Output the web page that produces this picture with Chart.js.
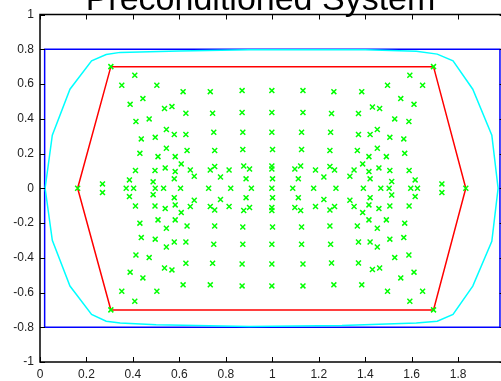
<!DOCTYPE html>
<html>
<head>
<meta charset="utf-8">
<script src="https://cdn.jsdelivr.net/npm/chart.js@4"></script>
<style>
html, body { margin: 0; padding: 0; overflow: hidden; background: #fff; }
#wrap { width: 520px; height: 381px; }
</style>
</head>
<body>
<div id="wrap"><canvas id="chart" width="520" height="381"></canvas></div>
<script>
const titleText = "Preconditioned System";
const xTicks = [0, 0.2, 0.4, 0.6, 0.8, 1, 1.2, 1.4, 1.6, 1.8, 2];
const yTicks = [-1, -0.8, -0.6, -0.4, -0.2, 0, 0.2, 0.4, 0.6, 0.8, 1];

// eigenvalues (green x)
const eigX = [
    0.305, 1.694, 0.408, 1.592, 0.352, 0.503, 1.496, 1.647, 0.616, 0.733,
    0.870, 0.998, 1.132, 1.265, 1.385, 0.443, 1.553, 0.388, 1.610, 0.536,
    0.568, 1.431, 1.462, 0.628, 0.743, 0.870, 0.998, 1.132, 1.255, 1.371,
    0.413, 0.470, 1.527, 1.588, 0.544, 1.452, 0.578, 0.628, 1.371, 1.421,
    0.748, 0.873, 0.998, 1.126, 1.251, 0.436, 0.496, 1.506, 1.566, 0.544,
    1.452, 0.633, 0.752, 0.873, 1.001, 1.126, 1.248, 1.366, 0.430, 1.570,
    0.508, 0.582, 1.416, 1.491, 0.608, 1.389, 0.877, 0.998, 1.122, 0.752,
    1.248, 0.539, 1.459, 0.902, 0.998, 1.097, 0.411, 0.495, 0.647, 0.733,
    0.814, 1.186, 1.268, 1.352, 1.506, 1.589, 0.582, 1.416, 0.664, 0.777,
    1.222, 1.334, 0.385, 0.578, 0.887, 1.001, 1.112, 1.421, 1.615, 0.487,
    1.514, 0.269, 1.730,
    0.305, 1.694, 0.408, 1.592, 0.352, 0.503, 1.496, 1.647, 0.616, 0.733,
    0.870, 0.998, 1.132, 1.265, 1.385, 0.443, 1.553, 0.388, 1.610, 0.536,
    0.568, 1.431, 1.462, 0.628, 0.743, 0.870, 0.998, 1.132, 1.255, 1.371,
    0.413, 0.470, 1.527, 1.588, 0.544, 1.452, 0.578, 0.628, 1.371, 1.421,
    0.748, 0.873, 0.998, 1.126, 1.251, 0.436, 0.496, 1.506, 1.566, 0.544,
    1.452, 0.633, 0.752, 0.873, 1.001, 1.126, 1.248, 1.366, 0.430, 1.570,
    0.508, 0.582, 1.416, 1.491, 0.608, 1.389, 0.877, 0.998, 1.122, 0.752,
    1.248, 0.539, 1.459, 0.902, 0.998, 1.097, 0.411, 0.495, 0.647, 0.733,
    0.814, 1.186, 1.268, 1.352, 1.506, 1.589, 0.582, 1.416, 0.664, 0.777,
    1.222, 1.334, 0.385, 0.578, 0.887, 1.001, 1.112, 1.421, 1.615, 0.487,
    1.514, 0.269, 1.730,
    0.162, 0.371, 0.403, 0.496, 0.532, 0.605, 0.726, 0.821, 0.910, 0.998,
    1.088, 1.178, 1.274, 1.392, 1.467, 1.503, 1.596, 1.625, 1.833
];
const eigY = [
    0.700, 0.700, 0.650, 0.650, 0.593, 0.593, 0.593, 0.593, 0.556, 0.556,
    0.562, 0.562, 0.562, 0.556, 0.556, 0.516, 0.516, 0.483, 0.483, 0.459,
    0.470, 0.468, 0.459, 0.432, 0.432, 0.436, 0.436, 0.436, 0.430, 0.430,
    0.384, 0.399, 0.399, 0.384, 0.338, 0.338, 0.309, 0.309, 0.309, 0.309,
    0.322, 0.322, 0.322, 0.322, 0.322, 0.284, 0.293, 0.293, 0.284, 0.230,
    0.230, 0.217, 0.217, 0.223, 0.223, 0.223, 0.217, 0.217, 0.201, 0.201,
    0.182, 0.182, 0.182, 0.182, 0.140, 0.140, 0.128, 0.128, 0.128, 0.125,
    0.125, 0.117, 0.117, 0.111, 0.111, 0.111, 0.102, 0.102, 0.105, 0.105,
    0.105, 0.105, 0.105, 0.105, 0.102, 0.102, 0.096, 0.096, 0.069, 0.065,
    0.065, 0.069, 0.048, 0.054, 0.054, 0.054, 0.054, 0.054, 0.048, 0.037,
    0.039, 0.025, 0.025,
    -0.700, -0.700, -0.650, -0.650, -0.593, -0.593, -0.593, -0.593, -0.556, -0.556,
    -0.562, -0.562, -0.562, -0.556, -0.556, -0.516, -0.516, -0.483, -0.483, -0.459,
    -0.470, -0.468, -0.459, -0.432, -0.432, -0.436, -0.436, -0.436, -0.430, -0.430,
    -0.384, -0.399, -0.399, -0.384, -0.338, -0.338, -0.309, -0.309, -0.309, -0.309,
    -0.322, -0.322, -0.322, -0.322, -0.322, -0.284, -0.293, -0.293, -0.284, -0.230,
    -0.230, -0.217, -0.217, -0.223, -0.223, -0.223, -0.217, -0.217, -0.201, -0.201,
    -0.182, -0.182, -0.182, -0.182, -0.140, -0.140, -0.128, -0.128, -0.128, -0.125,
    -0.125, -0.117, -0.117, -0.111, -0.111, -0.111, -0.102, -0.102, -0.105, -0.105,
    -0.105, -0.105, -0.105, -0.105, -0.102, -0.102, -0.096, -0.096, -0.069, -0.065,
    -0.065, -0.069, -0.048, -0.054, -0.054, -0.054, -0.054, -0.054, -0.048, -0.037,
    -0.039, -0.025, -0.025,
    0, 0, 0, 0, 0, 0, 0, 0, 0, 0,
    0, 0, 0, 0, 0, 0, 0, 0, 0
];

// red polygon
const hexX = [0.162, 0.305, 1.694, 1.833, 1.694, 0.305, 0.162];
const hexY = [0, 0.700, 0.700, 0, -0.700, -0.700, 0];

// blue rectangle
const boxX = [0.02, 1.98, 1.98, 0.02, 0.02];
const boxY = [-0.8, -0.8, 0.8, 0.8, -0.8];

// cyan curve
const curveX = [0.022, 0.053, 0.129, 0.222, 0.285, 0.345, 0.6, 0.9, 1.4, 1.62, 1.71, 1.778, 1.863, 1.945, 1.972,
                1.945, 1.863, 1.778, 1.71, 1.62, 1.3, 0.9, 0.5, 0.345, 0.285, 0.222, 0.129, 0.053, 0.022];
const curveY = [0, 0.305, 0.57, 0.733, 0.77, 0.782, 0.79, 0.797, 0.797, 0.788, 0.772, 0.733, 0.57, 0.305, 0,
                -0.305, -0.563, -0.726, -0.765, -0.775, -0.79, -0.795, -0.785, -0.775, -0.765, -0.726, -0.563, -0.3, 0];

const toPts = (xs, ys) => xs.map((x, i) => ({ x: x, y: ys[i] }));

const frame = {
    id: "frame",
    afterDraw(chart) {
        const c = chart.ctx;
        const a = chart.chartArea;
        const sx = chart.scales.x;
        const sy = chart.scales.y;
        c.save();
        c.strokeStyle = "#000";
        c.lineWidth = 1.5;
        c.strokeRect(a.left, a.top, a.right - a.left, a.bottom - a.top);
        c.lineWidth = 1;
        c.beginPath();
        xTicks.forEach(v => {
            const px = Math.round(sx.getPixelForValue(v)) + 0.5;
            c.moveTo(px, a.bottom); c.lineTo(px, a.bottom - 5);
            c.moveTo(px, a.top); c.lineTo(px, a.top + 5);
        });
        yTicks.forEach(v => {
            const py = Math.round(sy.getPixelForValue(v)) + 0.5;
            c.moveTo(a.left, py); c.lineTo(a.left + 5, py);
            c.moveTo(a.right, py); c.lineTo(a.right - 5, py);
        });
        c.stroke();
        c.fillStyle = "#000";
        c.font = '34px "Liberation Sans", Arial, sans-serif';
        c.textAlign = "center";
        c.textBaseline = "alphabetic";
        c.fillText(titleText, 260.5, 10);
        c.restore();
    }
};

const ctx = document.getElementById("chart");

const config = {
    type: "scatter",
    data: {
        datasets: [{
            data: toPts(eigX, eigY),
            pointStyle: "crossRot",
            pointRadius: 3.5,
            borderColor: "#00ff00",
            borderWidth: 1.5,
            showLine: false
        }, {
            data: toPts(hexX, hexY),
            showLine: true,
            borderColor: "#ff0000",
            borderWidth: 1.5,
            pointRadius: 0
        }, {
            data: toPts(curveX, curveY),
            showLine: true,
            borderColor: "#00ffff",
            borderWidth: 1.5,
            pointRadius: 0
        }, {
            data: toPts(boxX, boxY),
            showLine: true,
            borderColor: "#0000ff",
            borderWidth: 1.5,
            pointRadius: 0
        }]
    },
    options: {
        responsive: false,
        animation: false,
        layout: {
            padding: { top: 14.5, right: 15.4, left: 0, bottom: 0 }
        },
        plugins: {
            legend: { display: false },
            tooltip: { enabled: false }
        },
        scales: {
            x: {
                type: "linear",
                min: 0,
                max: 2,
                afterBuildTicks: s => { s.ticks = xTicks.map(v => ({ value: v })); },
                afterFit: s => { s.height = 19; },
                grid: { display: false, drawTicks: false },
                border: { display: false },
                ticks: {
                    autoSkip: false,
                    maxRotation: 0,
                    padding: 5,
                    color: "#222",
                    font: { family: '"Liberation Sans", Arial, sans-serif', size: 12 },
                    callback: v => String(Math.round(v * 10) / 10)
                }
            },
            y: {
                type: "linear",
                min: -1,
                max: 1,
                afterBuildTicks: s => { s.ticks = yTicks.map(v => ({ value: v })); },
                afterFit: s => { s.width = 40; },
                grid: { display: false, drawTicks: false },
                border: { display: false },
                ticks: {
                    autoSkip: false,
                    padding: 6,
                    color: "#222",
                    font: { family: '"Liberation Sans", Arial, sans-serif', size: 12 },
                    callback: v => String(Math.round(v * 10) / 10)
                }
            }
        }
    },
    plugins: [frame]
};

const chartLine = new Chart(ctx, config);
</script>
</body>
</html>
